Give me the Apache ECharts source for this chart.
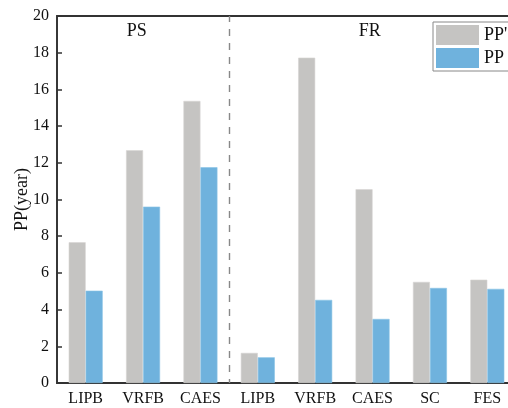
<!DOCTYPE html>
<html>
<head>
<meta charset="utf-8">
<script src="https://cdn.jsdelivr.net/npm/echarts@6/dist/echarts.min.js"></script>
<style>
  html, body { margin: 0; padding: 0; background: #fff; }
  #chart { width: 508px; height: 408px; }
</style>
</head>
<body>
<div id="chart"></div>
<script>
// Payback period per storage technology, grouped by service (PS / FR)
const categories = ['LIPB', 'VRFB', 'CAES', 'LIPB', 'VRFB', 'CAES', 'SC', 'FES'];
const ppPrime = [7.67, 12.68, 15.37, 1.64, 17.73, 10.56, 5.51, 5.63];
const pp = [5.03, 9.61, 11.76, 1.40, 4.53, 3.49, 5.18, 5.13];
const groupLabels = ['PS', 'FR'];
const groupDivider = 3; // boundary between the PS and FR groups (category units)

const font = '"Liberation Serif", "Times New Roman", serif';
const axisColor = '#333';

const chart = echarts.init(document.getElementById('chart'), null, { renderer: 'canvas' });

chart.setOption({
  animation: false,
  textStyle: { fontFamily: font },
  grid: {
    left: 57, top: 16, width: 459, height: 367,
    outerBoundsMode: 'none', containLabel: false,
    show: true, borderColor: axisColor, borderWidth: 1.8, backgroundColor: 'transparent'
  },
  legend: {
    orient: 'vertical',
    left: 433, top: 22,
    icon: 'rect',
    itemWidth: 43, itemHeight: 20, itemGap: 3,
    padding: [3, 3, 3, 3],
    borderColor: '#888', borderWidth: 1,
    backgroundColor: '#fff',
    itemStyle: { borderWidth: 0 },
    textStyle: { fontFamily: font, fontSize: 18, color: '#111' },
    data: ["PP'", 'PP']
  },
  xAxis: [{
    type: 'category',
    data: categories,
    axisLine: { lineStyle: { color: axisColor, width: 1.5 } },
    axisTick: { inside: true, length: 3, lineStyle: { color: axisColor, width: 1.5 } },
    axisLabel: { fontFamily: font, fontSize: 16, color: '#111', margin: 8 },
    splitLine: { show: false }
  }, {
    type: 'value', min: 0, max: 8, show: false
  }],
  yAxis: {
    type: 'value', min: 0, max: 20, interval: 2,
    name: 'PP(year)', nameLocation: 'middle', nameGap: 26, nameMoveOverlap: false,
    nameTextStyle: { fontFamily: font, fontSize: 18, color: '#111' },
    axisLine: { show: true, lineStyle: { color: axisColor, width: 1.5 } },
    axisTick: { show: true, inside: true, length: 5, lineStyle: { color: axisColor, width: 1.5 } },
    axisLabel: { fontFamily: font, fontSize: 16, color: '#111', margin: 8 },
    splitLine: { show: false }
  },
  series: [{
    name: "PP'", type: 'bar', data: ppPrime,
    barWidth: 17, barGap: '0%',
    itemStyle: { color: '#c5c4c2', borderColor: '#d6d5d3', borderWidth: 0.6 }
  }, {
    name: 'PP', type: 'bar', data: pp,
    barWidth: 17, barGap: '0%',
    itemStyle: { color: '#6fb2dd', borderColor: '#8cc4e6', borderWidth: 0.6 }
  }, {
    // dashed group divider and group captions on a hidden linear axis
    type: 'scatter', xAxisIndex: 1, data: [], silent: true,
    markLine: {
      symbol: 'none', silent: true, label: { show: false },
      lineStyle: { type: [7, 7], dashOffset: 3, color: '#888', width: 1.4 },
      data: [{ xAxis: groupDivider }]
    },
    markPoint: {
      symbol: 'rect', symbolSize: 1, itemStyle: { color: 'transparent' },
      label: { show: true, position: 'inside', fontFamily: font, fontSize: 18, color: '#111' },
      data: [
        { coord: [1.39, 19.15], value: groupLabels[0], label: { formatter: groupLabels[0] } },
        { coord: [5.45, 19.15], value: groupLabels[1], label: { formatter: groupLabels[1] } }
      ]
    }
  }]
});
</script>
</body>
</html>
